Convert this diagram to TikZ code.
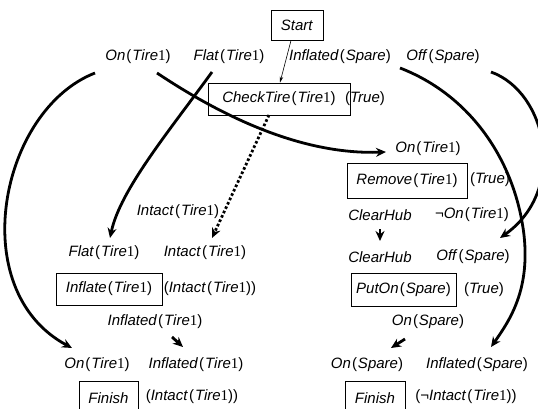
\documentclass[tikz,border=0pt]{standalone}
\usepackage{fontspec}
\setmainfont{Liberation Sans}
\newfontfamily\srf{Liberation Serif}
\usetikzlibrary{arrows.meta}
\newcommand{\pd}[2]{\textit{#1}\kern1pt(\kern1pt#2)}
\newcommand{\tone}{\textit{Tire}{\srf 1}}
\newcommand{\spr}{\textit{Spare}}
\begin{document}
\begin{tikzpicture}[x=1pt,y=-1pt,font=\fontsize{15}{18}\selectfont,
  lbl/.style={inner sep=0pt,anchor=center},
  box/.style={draw,line width=0.9pt,inner sep=0pt},
  arr/.style={line width=2.8pt,-{Stealth[length=10pt,width=9pt]}},
  thinarr/.style={line width=0.6pt,-{Stealth[length=6pt,width=3.5pt]}},
  dotarr/.style={line width=2.8pt,dash pattern=on 2.6pt off 2.2pt,-{Stealth[length=10pt,width=9pt]}}]
\clip (0,0) rectangle (538,409);
% top row
\node[box,minimum width=52pt,minimum height=30pt] (start) at (297,25) {\textit{Start}};
\node[lbl] (onT1) at (138,57) {\pd{On}{\tone}};
\node[lbl] (flatT1) at (229,57) {\pd{Flat}{\tone}};
\node[lbl] (inflSp) at (340,57) {\pd{Inflated}{\spr}};
\node[lbl] (offSp) at (443,57) {\pd{Off}{\spr}};
\node[box,minimum width=142pt,minimum height=32pt] (check) at (279,99) {\pd{CheckTire}{\tone}};
\node[lbl] (trueA) at (365,99) {(\textit{True})};
% right column
\node[lbl] (onT1r) at (428,149) {\pd{On}{\tone}};
\node[box,minimum width=120pt,minimum height=35pt] (remove) at (407,180.5) {\pd{Remove}{\tone}};
\node[lbl] (trueB) at (490,180) {(\textit{True})};
\node[lbl] (clear1) at (380,215) {\textit{ClearHub}};
\node[lbl] (notOn) at (472,215) {¬\pd{On}{\tone}};
\node[lbl] (clear2) at (380,257) {\textit{ClearHub}};
\node[lbl] (offSp2) at (473,257) {\pd{Off}{\spr}};
\node[box,minimum width=105pt,minimum height=33pt] (puton) at (403.5,289.5) {\pd{PutOn}{\spr}};
\node[lbl] (trueC) at (484,290) {(\textit{True})};
\node[lbl] (onSp1) at (428,322) {\pd{On}{\spr}};
\node[lbl] (onSp2) at (367,365) {\pd{On}{\spr}};
\node[lbl] (inflSp2) at (477,365) {\pd{Inflated}{\spr}};
\node[box,minimum width=60pt,minimum height=34pt] (finish2) at (375,398) {\textit{Finish}};
\node[lbl] (negInt) at (466,397) {(¬\pd{Intact}{\tone})};
% left column
\node[lbl] (intLbl) at (178,212) {\pd{Intact}{\tone}};
\node[lbl] (flat2) at (104,253) {\pd{Flat}{\tone}};
\node[lbl] (intact2) at (205,253) {\pd{Intact}{\tone}};
\node[box,minimum width=106pt,minimum height=32pt] (inflate) at (109,289) {\pd{Inflate}{\tone}};
\node[lbl] (intP) at (210,289) {(\pd{Intact}{\tone})};
\node[lbl] (inflT1) at (155,322) {\pd{Inflated}{\tone}};
\node[lbl] (onT1b) at (97,365) {\pd{On}{\tone}};
\node[lbl] (inflT1b) at (196,365) {\pd{Inflated}{\tone}};
\node[box,minimum width=59pt,minimum height=34pt] (finish1) at (108.5,398) {\textit{Finish}};
\node[lbl] (intP2) at (192,397) {(\pd{Intact}{\tone})};
% connectors
\draw[thinarr] ([xshift=-6pt]start.south) -- ([xshift=1pt]check.north);
\draw[arr] ([shift={(-43,16)}]onT1.center) .. controls (0,110) and (-36,290) .. ([shift={(-25,-17)}]onT1b.center);
\draw[arr] ([shift={(19,16)}]onT1.center) .. controls (220,115) and (300,155) .. ([shift={(-42,3)}]onT1r.center);
\draw[arr] ([shift={(-17,15)}]flatT1.center) .. controls (170,130) and (120,190) .. ([shift={(6,-15)}]flat2.center);
\draw[dotarr] ([shift={(-10,16)}]check.center) -- ([shift={(7,-15)}]intact2.center);
\draw[arr] ([shift={(60,11)}]inflSp.center) .. controls (470,95) and (515,160) .. (524,235) .. controls (530,290) and (510,320) .. ([shift={(14,-18)}]inflSp2.center);
\draw[arr] ([shift={(48,15)}]offSp.center) .. controls (547,92) and (568,190) .. ([shift={(27,-19)}]offSp2.center);
\draw[arr] ([shift={(0,14)}]clear1.center) -- ([shift={(0,-16)}]clear2.center);
\draw[arr] ([shift={(17,15)}]inflT1.center) -- ([shift={(-13,-18)}]inflT1b.center);
\draw[arr] ([shift={(-23,17)}]onSp1.center) -- ([shift={(24,-17)}]onSp2.center);
\end{tikzpicture}
\end{document}
